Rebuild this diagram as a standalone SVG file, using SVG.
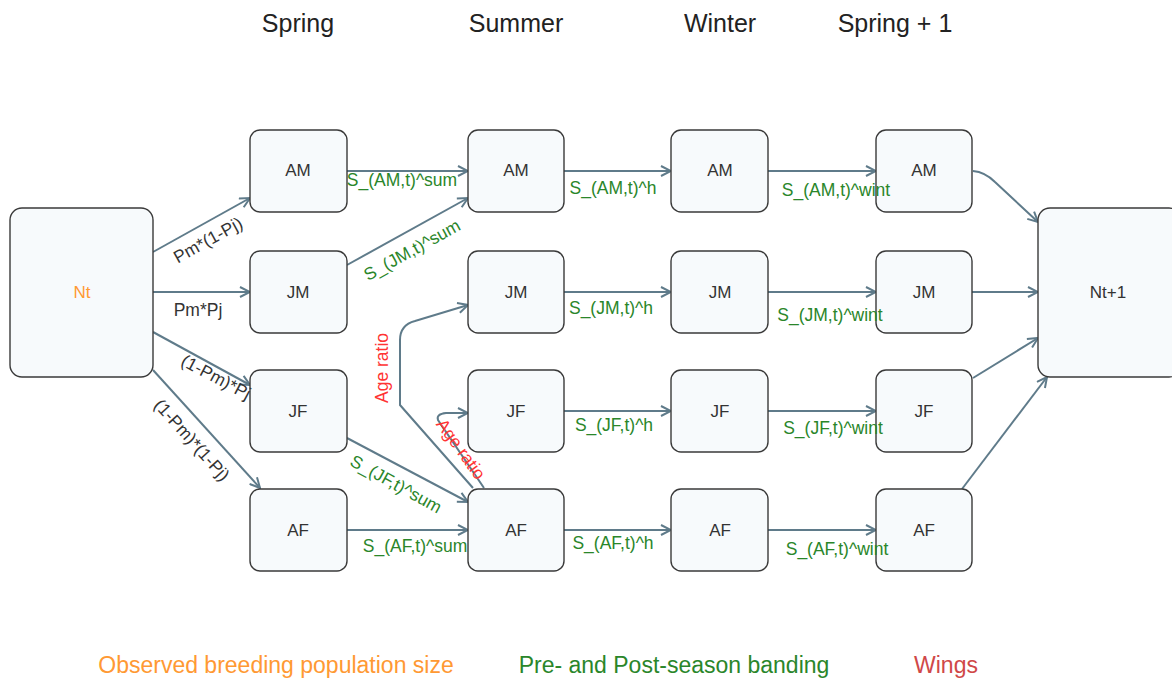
<svg xmlns="http://www.w3.org/2000/svg" width="1172" height="681" viewBox="0 0 1172 681">
<style>
.n rect{fill:#F7FAFC;stroke:#3a3a3a;stroke-width:1.4}
.n text{font-family:"Liberation Sans",Arial,sans-serif;font-size:17px;fill:#333;text-anchor:middle;dominant-baseline:central}
.e path{fill:none;stroke:#5F7B8A;stroke-width:2;marker-end:url(#ar)}
.l{font-family:"Liberation Sans",Arial,sans-serif;font-size:17.5px;text-anchor:middle;dominant-baseline:central}
.g{fill:#2A862A}.k{fill:#333}.r{fill:#FF3333}
.h{font-family:"Liberation Sans",Arial,sans-serif;font-size:25px;fill:#222;text-anchor:middle}
.lg{font-family:"Liberation Sans",Arial,sans-serif;font-size:23px;text-anchor:middle}
</style>
<defs>
<marker id="ar" viewBox="0 0 12 12" refX="11" refY="6" markerWidth="12" markerHeight="12" markerUnits="userSpaceOnUse" orient="auto">
<path d="M1,1 L11,6 L1,11" fill="none" stroke="#5F7B8A" stroke-width="2"/>
</marker>
</defs>
<rect width="1172" height="681" fill="#fff"/>
<g id="headers">
<text class="h" x="298" y="32">Spring</text>
<text class="h" x="516" y="32">Summer</text>
<text class="h" x="720" y="32">Winter</text>
<text class="h" x="895" y="32">Spring + 1</text>
</g>
<g id="connectors">
<g class="e">
<path d="M153,252 L250,198"/>
<path d="M153,292 L250,292"/>
<path d="M153,332 L250,385"/>
<path d="M153,370 L260,488"/>
<path d="M347,171 L468,171"/>
<path d="M347,265 L468,198"/>
<path d="M347,438 L468,502"/>
<path d="M347,530 L468,530"/>
<path d="M473,488 L400,405 L400,340 Q400,325 415,321 L468,305"/>
<path d="M484,488 L438,420 Q436,414 446,413 L468,413"/>
<path d="M564,171 L671,171"/>
<path d="M564,292 L671,292"/>
<path d="M564,411 L671,411"/>
<path d="M564,530 L671,530"/>
<path d="M768,171 L876,171"/>
<path d="M768,292 L876,292"/>
<path d="M768,411 L876,411"/>
<path d="M768,530 L876,530"/>
<path d="M973,171 Q985,172 995,182 L1038,222"/>
<path d="M972,292 L1038,292"/>
<path d="M973,378 L1038,338"/>
<path d="M962,489 L1047,377"/>
</g>
</g>
<g id="Nt" class="n"><rect x="10" y="208" width="143" height="169" rx="12"/><text x="82" y="292" style="fill:#FF9933">Nt</text></g>
<g id="Nt1" class="n"><rect x="1038" y="208" width="143" height="169" rx="12"/><text x="1108" y="292">Nt+1</text></g>
<g id="spAM" class="n"><rect x="250" y="130" width="97" height="82" rx="10"/><text x="298" y="170">AM</text></g>
<g id="spJM" class="n"><rect x="250" y="251" width="97" height="82" rx="10"/><text x="298" y="292">JM</text></g>
<g id="spJF" class="n"><rect x="250" y="370" width="97" height="82" rx="10"/><text x="298" y="411">JF</text></g>
<g id="spAF" class="n"><rect x="250" y="489" width="97" height="82" rx="10"/><text x="298" y="530">AF</text></g>
<g id="suAM" class="n"><rect x="468" y="130" width="96" height="82" rx="10"/><text x="516" y="170">AM</text></g>
<g id="suJM" class="n"><rect x="468" y="251" width="96" height="82" rx="10"/><text x="516" y="292">JM</text></g>
<g id="suJF" class="n"><rect x="468" y="370" width="96" height="82" rx="10"/><text x="516" y="411">JF</text></g>
<g id="suAF" class="n"><rect x="468" y="489" width="96" height="82" rx="10"/><text x="516" y="530">AF</text></g>
<g id="wiAM" class="n"><rect x="671" y="130" width="97" height="82" rx="10"/><text x="720" y="170">AM</text></g>
<g id="wiJM" class="n"><rect x="671" y="251" width="97" height="82" rx="10"/><text x="720" y="292">JM</text></g>
<g id="wiJF" class="n"><rect x="671" y="370" width="97" height="82" rx="10"/><text x="720" y="411">JF</text></g>
<g id="wiAF" class="n"><rect x="671" y="489" width="97" height="82" rx="10"/><text x="720" y="530">AF</text></g>
<g id="s1AM" class="n"><rect x="876" y="130" width="96" height="82" rx="10"/><text x="924" y="170">AM</text></g>
<g id="s1JM" class="n"><rect x="876" y="251" width="96" height="82" rx="10"/><text x="924" y="292">JM</text></g>
<g id="s1JF" class="n"><rect x="876" y="370" width="96" height="82" rx="10"/><text x="924" y="411">JF</text></g>
<g id="s1AF" class="n"><rect x="876" y="489" width="96" height="82" rx="10"/><text x="924" y="530">AF</text></g>
<g id="edge-labels">
<text class="l k" transform="translate(208,240) rotate(-29)">Pm*(1-Pj)</text>
<text class="l k" x="198" y="310">Pm*Pj</text>
<text class="l k" transform="translate(216,377) rotate(28)">(1-Pm)*Pj</text>
<text class="l k" transform="translate(192,440) rotate(48)">(1-Pm)*(1-Pj)</text>
<text class="l g" x="402" y="180">S_(AM,t)^sum</text>
<text class="l g" transform="translate(412,250) rotate(-29)">S_(JM,t)^sum</text>
<text class="l g" transform="translate(396,484) rotate(29)">S_(JF,t)^sum</text>
<text class="l g" x="415" y="546">S_(AF,t)^sum</text>
<text class="l r" transform="translate(382,368) rotate(-90)">Age ratio</text>
<text class="l r" transform="translate(461,449) rotate(54)">Age ratio</text>
<text class="l g" x="613" y="188">S_(AM,t)^h</text>
<text class="l g" x="611" y="308">S_(JM,t)^h</text>
<text class="l g" x="614" y="425">S_(JF,t)^h</text>
<text class="l g" x="613" y="543">S_(AF,t)^h</text>
<text class="l g" x="836" y="190">S_(AM,t)^wint</text>
<text class="l g" x="830" y="315">S_(JM,t)^wint</text>
<text class="l g" x="833" y="428">S_(JF,t)^wint</text>
<text class="l g" x="837" y="549">S_(AF,t)^wint</text>
</g>
<g id="legend">
<text class="lg" x="276" y="673" fill="#FF9933">Observed breeding population size</text>
<text class="lg" x="674" y="673" fill="#2A862A">Pre- and Post-season banding</text>
<text class="lg" x="946" y="673" fill="#D04848">Wings</text>
</g>
</svg>
